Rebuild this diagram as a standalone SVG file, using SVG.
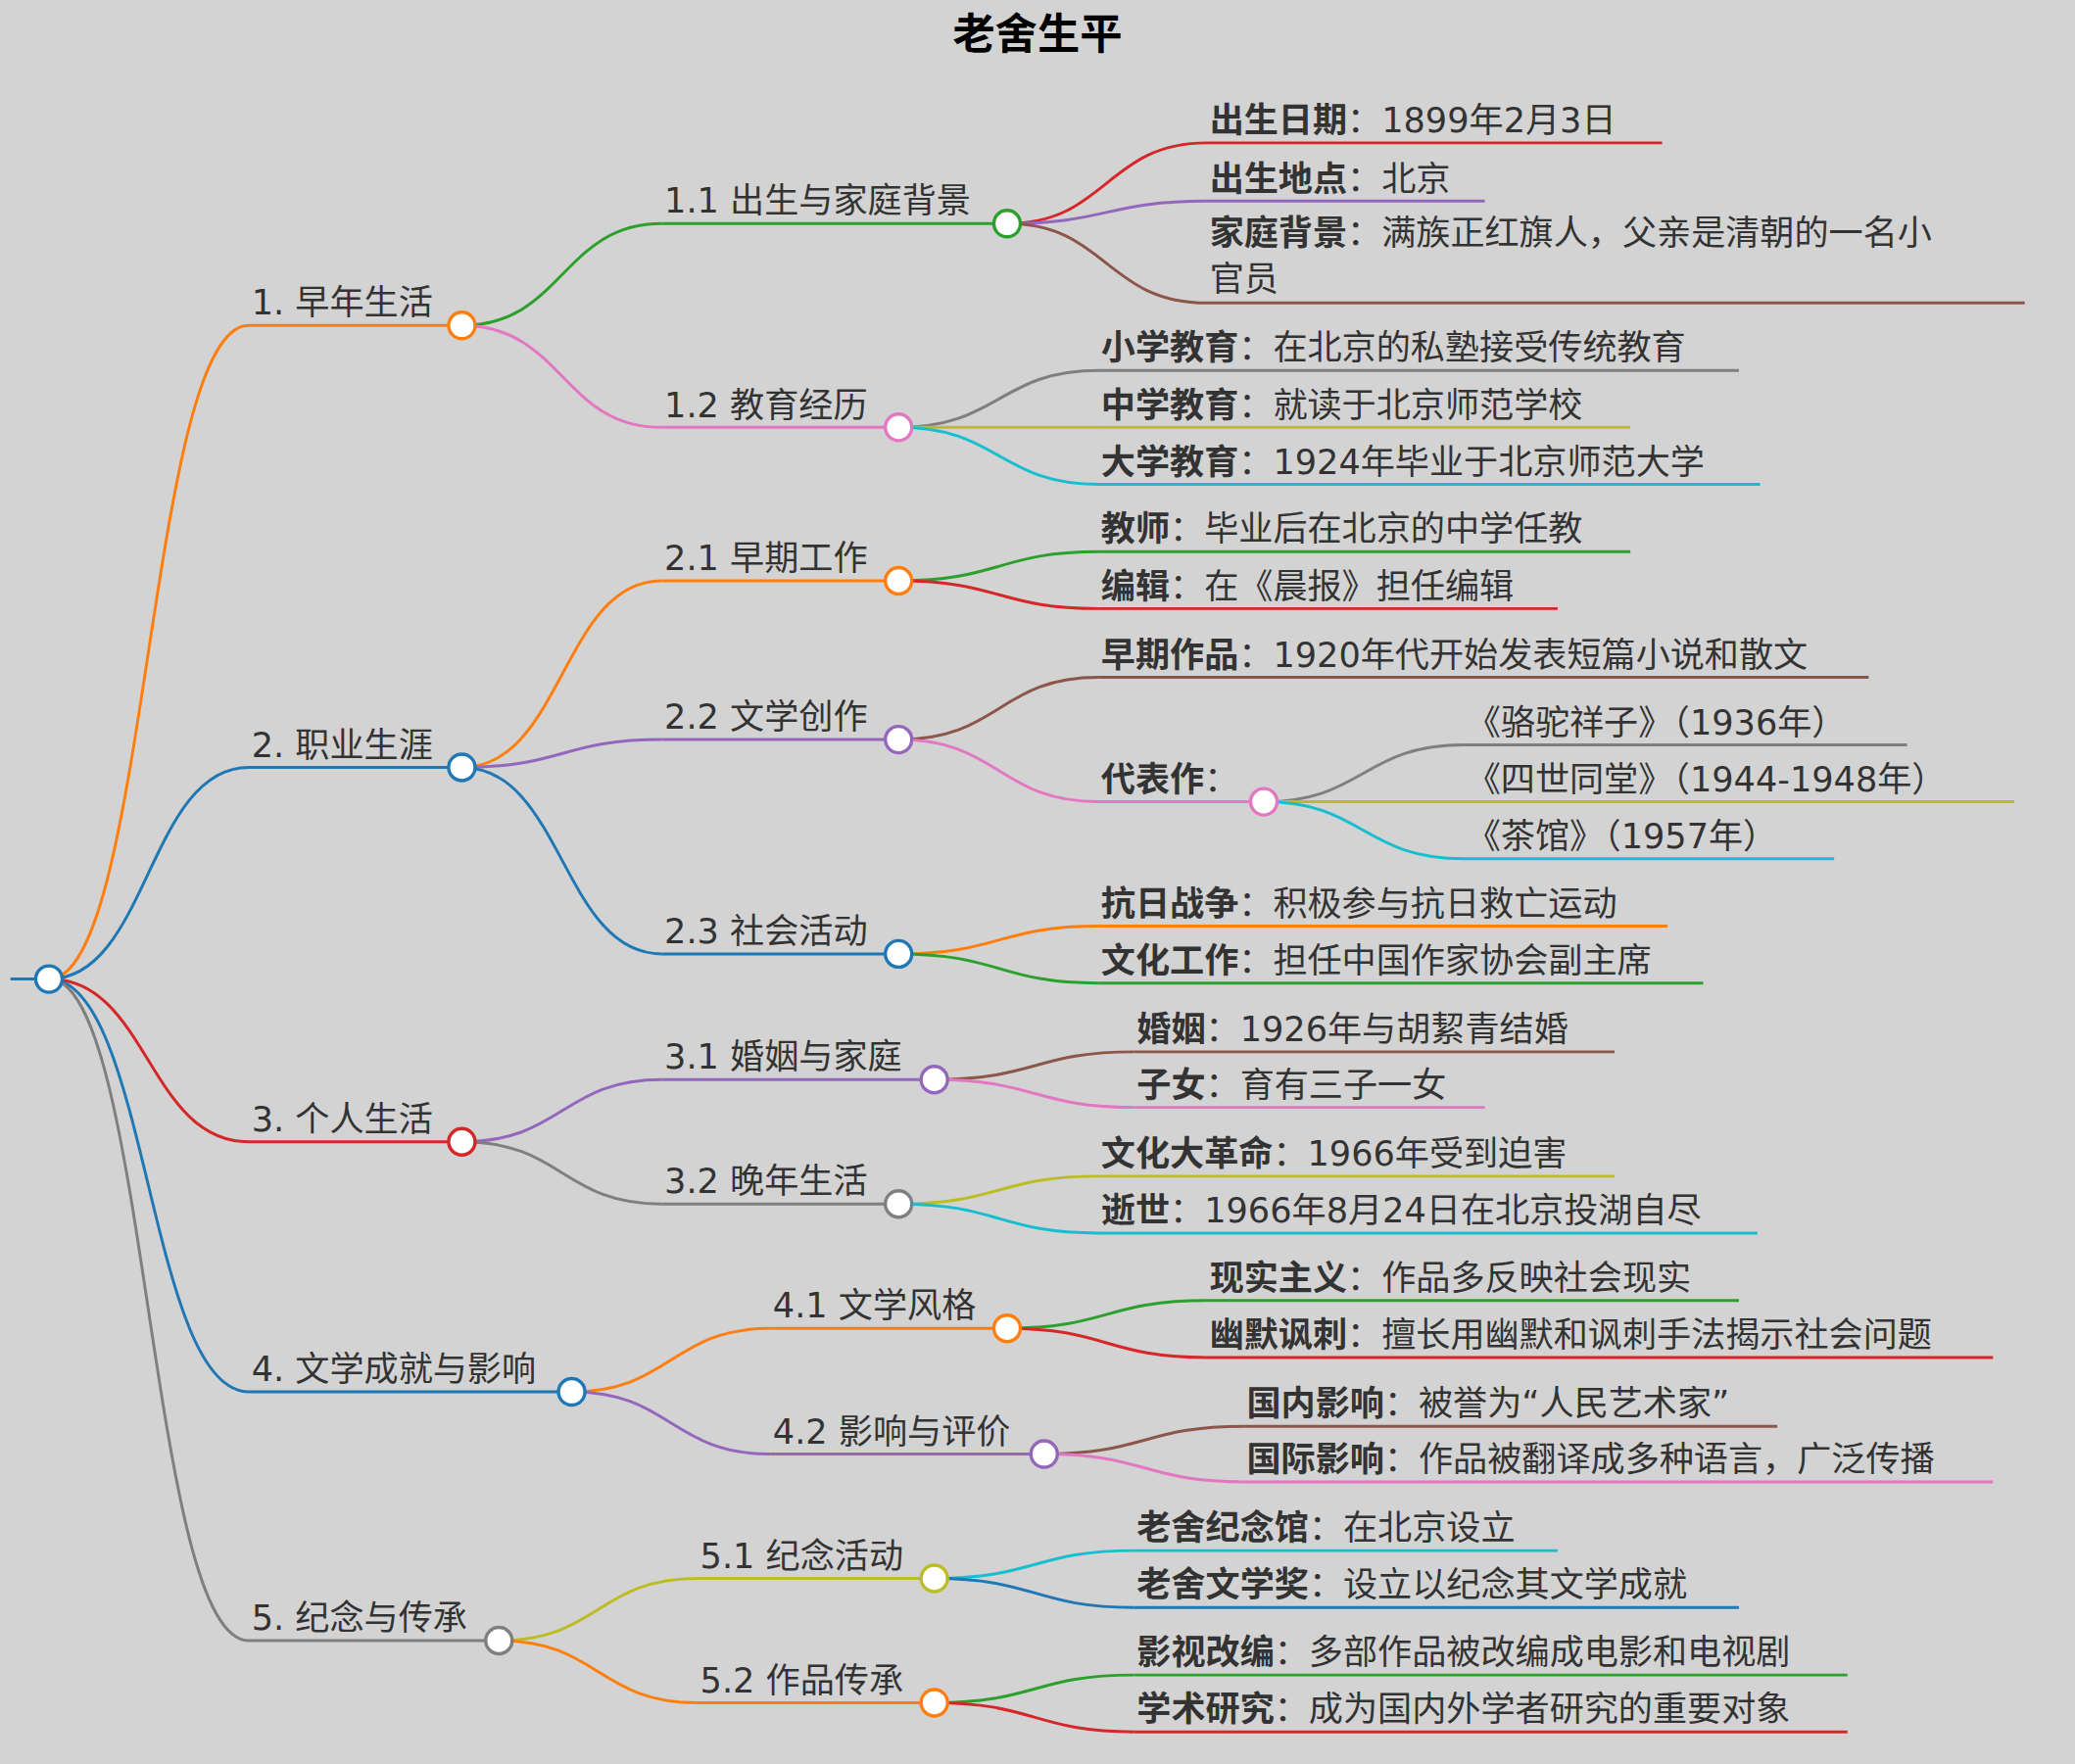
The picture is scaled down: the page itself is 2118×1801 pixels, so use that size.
<svg xmlns="http://www.w3.org/2000/svg" width="2118" height="1801" viewBox="0 0 2118 1801">
<style>
text{font-family:"DejaVu Sans","Noto Sans CJK SC",sans-serif;font-size:26px;fill:#333}
.b{font-weight:bold}
.t{font-size:32px;font-weight:bold;fill:#000}
path,line{fill:none;stroke-width:2.2}
circle{fill:#fff;stroke-width:2.5}
</style>
<rect width="2118" height="1801" fill="#d3d3d3"/>
<g transform="scale(1.3508)">
<text class="t" x="784" y="37" text-anchor="middle">老舍生平</text>
<g id="connectors">
<path d="M37,740 C112,740 112,246 188,246" stroke="#ff7f0e"/>
<path d="M37,740 C112,740 112,580 188,580" stroke="#1f77b4"/>
<path d="M37,740 C112,740 112,863 188,863" stroke="#d62728"/>
<path d="M37,740 C112,740 112,1052 188,1052" stroke="#1f77b4"/>
<path d="M37,740 C112,740 112,1240 188,1240" stroke="#7f7f7f"/>
<path d="M349,246 C425,246 425,169 500,169" stroke="#2ca02c"/>
<path d="M349,246 C425,246 425,323 500,323" stroke="#e377c2"/>
<path d="M349,580 C425,580 425,439 500,439" stroke="#ff7f0e"/>
<path d="M349,580 C425,580 425,559 500,559" stroke="#9467bd"/>
<path d="M349,580 C425,580 425,721 500,721" stroke="#1f77b4"/>
<path d="M349,863 C425,863 425,816 500,816" stroke="#9467bd"/>
<path d="M349,863 C425,863 425,910 500,910" stroke="#7f7f7f"/>
<path d="M432,1052 C507,1052 507,1004 582,1004" stroke="#ff7f0e"/>
<path d="M432,1052 C507,1052 507,1099 582,1099" stroke="#9467bd"/>
<path d="M377,1240 C452,1240 452,1193 527,1193" stroke="#bcbd22"/>
<path d="M377,1240 C452,1240 452,1287 527,1287" stroke="#ff7f0e"/>
<path d="M761,169 C836,169 836,108 912,108" stroke="#d62728"/>
<path d="M761,169 C836,169 836,152 912,152" stroke="#9467bd"/>
<path d="M761,169 C836,169 836,229 912,229" stroke="#8c564b"/>
<path d="M679,323 C755,323 755,280 830,280" stroke="#7f7f7f"/>
<path d="M679,323 C755,323 755,323 830,323" stroke="#bcbd22"/>
<path d="M679,323 C755,323 755,366 830,366" stroke="#17becf"/>
<path d="M679,439 C755,439 755,417 830,417" stroke="#2ca02c"/>
<path d="M679,439 C755,439 755,460 830,460" stroke="#d62728"/>
<path d="M679,559 C755,559 755,512 830,512" stroke="#8c564b"/>
<path d="M679,559 C755,559 755,606 830,606" stroke="#e377c2"/>
<path d="M955,606 C1030,606 1030,563 1106,563" stroke="#7f7f7f"/>
<path d="M955,606 C1030,606 1030,606 1106,606" stroke="#bcbd22"/>
<path d="M955,606 C1030,606 1030,649 1106,649" stroke="#17becf"/>
<path d="M679,721 C755,721 755,700 830,700" stroke="#ff7f0e"/>
<path d="M679,721 C755,721 755,743 830,743" stroke="#2ca02c"/>
<path d="M706,816 C782,816 782,795 857,795" stroke="#8c564b"/>
<path d="M706,816 C782,816 782,837 857,837" stroke="#e377c2"/>
<path d="M679,910 C755,910 755,889 830,889" stroke="#bcbd22"/>
<path d="M679,910 C755,910 755,932 830,932" stroke="#17becf"/>
<path d="M761,1004 C836,1004 836,983 912,983" stroke="#2ca02c"/>
<path d="M761,1004 C836,1004 836,1026 912,1026" stroke="#d62728"/>
<path d="M789,1099 C865,1099 865,1078 940,1078" stroke="#8c564b"/>
<path d="M789,1099 C865,1099 865,1120 940,1120" stroke="#e377c2"/>
<path d="M706,1193 C782,1193 782,1172 857,1172" stroke="#17becf"/>
<path d="M706,1193 C782,1193 782,1215 857,1215" stroke="#1f77b4"/>
<path d="M706,1287 C782,1287 782,1266 857,1266" stroke="#2ca02c"/>
<path d="M706,1287 C782,1287 782,1309 857,1309" stroke="#d62728"/>
</g>
<g id="root"><line x1="8" y1="740" x2="37" y2="740" stroke="#1f77b4"/><circle cx="37" cy="740" r="10" stroke="#1f77b4"/></g>
<g id="n1"><line x1="188" y1="246" x2="349" y2="246" stroke="#ff7f0e"/><text x="190" y="238">1. 早年生活</text><circle cx="349" cy="246" r="10" stroke="#ff7f0e"/></g>
<g id="n2"><line x1="188" y1="580" x2="349" y2="580" stroke="#1f77b4"/><text x="190" y="572">2. 职业生涯</text><circle cx="349" cy="580" r="10" stroke="#1f77b4"/></g>
<g id="n3"><line x1="188" y1="863" x2="349" y2="863" stroke="#d62728"/><text x="190" y="855">3. 个人生活</text><circle cx="349" cy="863" r="10" stroke="#d62728"/></g>
<g id="n4"><line x1="188" y1="1052" x2="432" y2="1052" stroke="#1f77b4"/><text x="190" y="1044">4. 文学成就与影响</text><circle cx="432" cy="1052" r="10" stroke="#1f77b4"/></g>
<g id="n5"><line x1="188" y1="1240" x2="377" y2="1240" stroke="#7f7f7f"/><text x="190" y="1232">5. 纪念与传承</text><circle cx="377" cy="1240" r="10" stroke="#7f7f7f"/></g>
<g id="n11"><line x1="500" y1="169" x2="761" y2="169" stroke="#2ca02c"/><text x="502" y="161">1.1 出生与家庭背景</text><circle cx="761" cy="169" r="10" stroke="#2ca02c"/></g>
<g id="n12"><line x1="500" y1="323" x2="679" y2="323" stroke="#e377c2"/><text x="502" y="315">1.2 教育经历</text><circle cx="679" cy="323" r="10" stroke="#e377c2"/></g>
<g id="n21"><line x1="500" y1="439" x2="679" y2="439" stroke="#ff7f0e"/><text x="502" y="431">2.1 早期工作</text><circle cx="679" cy="439" r="10" stroke="#ff7f0e"/></g>
<g id="n22"><line x1="500" y1="559" x2="679" y2="559" stroke="#9467bd"/><text x="502" y="551">2.2 文学创作</text><circle cx="679" cy="559" r="10" stroke="#9467bd"/></g>
<g id="n23"><line x1="500" y1="721" x2="679" y2="721" stroke="#1f77b4"/><text x="502" y="713">2.3 社会活动</text><circle cx="679" cy="721" r="10" stroke="#1f77b4"/></g>
<g id="n31"><line x1="500" y1="816" x2="706" y2="816" stroke="#9467bd"/><text x="502" y="808">3.1 婚姻与家庭</text><circle cx="706" cy="816" r="10" stroke="#9467bd"/></g>
<g id="n32"><line x1="500" y1="910" x2="679" y2="910" stroke="#7f7f7f"/><text x="502" y="902">3.2 晚年生活</text><circle cx="679" cy="910" r="10" stroke="#7f7f7f"/></g>
<g id="n41"><line x1="582" y1="1004" x2="761" y2="1004" stroke="#ff7f0e"/><text x="584" y="996">4.1 文学风格</text><circle cx="761" cy="1004" r="10" stroke="#ff7f0e"/></g>
<g id="n42"><line x1="582" y1="1099" x2="789" y2="1099" stroke="#9467bd"/><text x="584" y="1091">4.2 影响与评价</text><circle cx="789" cy="1099" r="10" stroke="#9467bd"/></g>
<g id="n51"><line x1="527" y1="1193" x2="706" y2="1193" stroke="#bcbd22"/><text x="529" y="1185">5.1 纪念活动</text><circle cx="706" cy="1193" r="10" stroke="#bcbd22"/></g>
<g id="n52"><line x1="527" y1="1287" x2="706" y2="1287" stroke="#ff7f0e"/><text x="529" y="1279">5.2 作品传承</text><circle cx="706" cy="1287" r="10" stroke="#ff7f0e"/></g>
<g id="l111"><line x1="912" y1="108" x2="1256" y2="108" stroke="#d62728"/><text x="914" y="100"><tspan class="b">出生日期</tspan>：1899年2月3日</text></g>
<g id="l112"><line x1="912" y1="152" x2="1122" y2="152" stroke="#9467bd"/><text x="914" y="144"><tspan class="b">出生地点</tspan>：北京</text></g>
<g id="l113"><line x1="912" y1="229" x2="1530" y2="229" stroke="#8c564b"/><text x="914" y="185"><tspan class="b">家庭背景</tspan>：满族正红旗人，父亲是清朝的一名小</text><text x="914" y="220">官员</text></g>
<g id="l121"><line x1="830" y1="280" x2="1314" y2="280" stroke="#7f7f7f"/><text x="832" y="272"><tspan class="b">小学教育</tspan>：在北京的私塾接受传统教育</text></g>
<g id="l122"><line x1="830" y1="323" x2="1232" y2="323" stroke="#bcbd22"/><text x="832" y="315"><tspan class="b">中学教育</tspan>：就读于北京师范学校</text></g>
<g id="l123"><line x1="830" y1="366" x2="1330" y2="366" stroke="#17becf"/><text x="832" y="358"><tspan class="b">大学教育</tspan>：1924年毕业于北京师范大学</text></g>
<g id="l211"><line x1="830" y1="417" x2="1232" y2="417" stroke="#2ca02c"/><text x="832" y="409"><tspan class="b">教师</tspan>：毕业后在北京的中学任教</text></g>
<g id="l212"><line x1="830" y1="460" x2="1177" y2="460" stroke="#d62728"/><text x="832" y="452"><tspan class="b">编辑</tspan>：在《晨报》担任编辑</text></g>
<g id="l221"><line x1="830" y1="512" x2="1412" y2="512" stroke="#8c564b"/><text x="832" y="504"><tspan class="b">早期作品</tspan>：1920年代开始发表短篇小说和散文</text></g>
<g id="n222"><line x1="830" y1="606" x2="955" y2="606" stroke="#e377c2"/><text x="832" y="598"><tspan class="b">代表作</tspan>：</text><circle cx="955" cy="606" r="10" stroke="#e377c2"/></g>
<g id="l2221"><line x1="1106" y1="563" x2="1441" y2="563" stroke="#7f7f7f"/><text x="1108" y="555">《骆驼祥子》（1936年）</text></g>
<g id="l2222"><line x1="1106" y1="606" x2="1522" y2="606" stroke="#bcbd22"/><text x="1108" y="598">《四世同堂》（1944-1948年）</text></g>
<g id="l2223"><line x1="1106" y1="649" x2="1386" y2="649" stroke="#17becf"/><text x="1108" y="641">《茶馆》（1957年）</text></g>
<g id="l231"><line x1="830" y1="700" x2="1260" y2="700" stroke="#ff7f0e"/><text x="832" y="692"><tspan class="b">抗日战争</tspan>：积极参与抗日救亡运动</text></g>
<g id="l232"><line x1="830" y1="743" x2="1287" y2="743" stroke="#2ca02c"/><text x="832" y="735"><tspan class="b">文化工作</tspan>：担任中国作家协会副主席</text></g>
<g id="l311"><line x1="857" y1="795" x2="1220" y2="795" stroke="#8c564b"/><text x="859" y="787"><tspan class="b">婚姻</tspan>：1926年与胡絜青结婚</text></g>
<g id="l312"><line x1="857" y1="837" x2="1122" y2="837" stroke="#e377c2"/><text x="859" y="829"><tspan class="b">子女</tspan>：育有三子一女</text></g>
<g id="l321"><line x1="830" y1="889" x2="1220" y2="889" stroke="#bcbd22"/><text x="832" y="881"><tspan class="b">文化大革命</tspan>：1966年受到迫害</text></g>
<g id="l322"><line x1="830" y1="932" x2="1328" y2="932" stroke="#17becf"/><text x="832" y="924"><tspan class="b">逝世</tspan>：1966年8月24日在北京投湖自尽</text></g>
<g id="l411"><line x1="912" y1="983" x2="1314" y2="983" stroke="#2ca02c"/><text x="914" y="975"><tspan class="b">现实主义</tspan>：作品多反映社会现实</text></g>
<g id="l412"><line x1="912" y1="1026" x2="1506" y2="1026" stroke="#d62728"/><text x="914" y="1018"><tspan class="b">幽默讽刺</tspan>：擅长用幽默和讽刺手法揭示社会问题</text></g>
<g id="l421"><line x1="940" y1="1078" x2="1343" y2="1078" stroke="#8c564b"/><text x="942" y="1070"><tspan class="b">国内影响</tspan>：被誉为“人民艺术家”</text></g>
<g id="l422"><line x1="940" y1="1120" x2="1506" y2="1120" stroke="#e377c2"/><text x="942" y="1112"><tspan class="b">国际影响</tspan>：作品被翻译成多种语言，广泛传播</text></g>
<g id="l511"><line x1="857" y1="1172" x2="1177" y2="1172" stroke="#17becf"/><text x="859" y="1164"><tspan class="b">老舍纪念馆</tspan>：在北京设立</text></g>
<g id="l512"><line x1="857" y1="1215" x2="1314" y2="1215" stroke="#1f77b4"/><text x="859" y="1207"><tspan class="b">老舍文学奖</tspan>：设立以纪念其文学成就</text></g>
<g id="l521"><line x1="857" y1="1266" x2="1396" y2="1266" stroke="#2ca02c"/><text x="859" y="1258"><tspan class="b">影视改编</tspan>：多部作品被改编成电影和电视剧</text></g>
<g id="l522"><line x1="857" y1="1309" x2="1396" y2="1309" stroke="#d62728"/><text x="859" y="1301"><tspan class="b">学术研究</tspan>：成为国内外学者研究的重要对象</text></g>
</g>
</svg>
